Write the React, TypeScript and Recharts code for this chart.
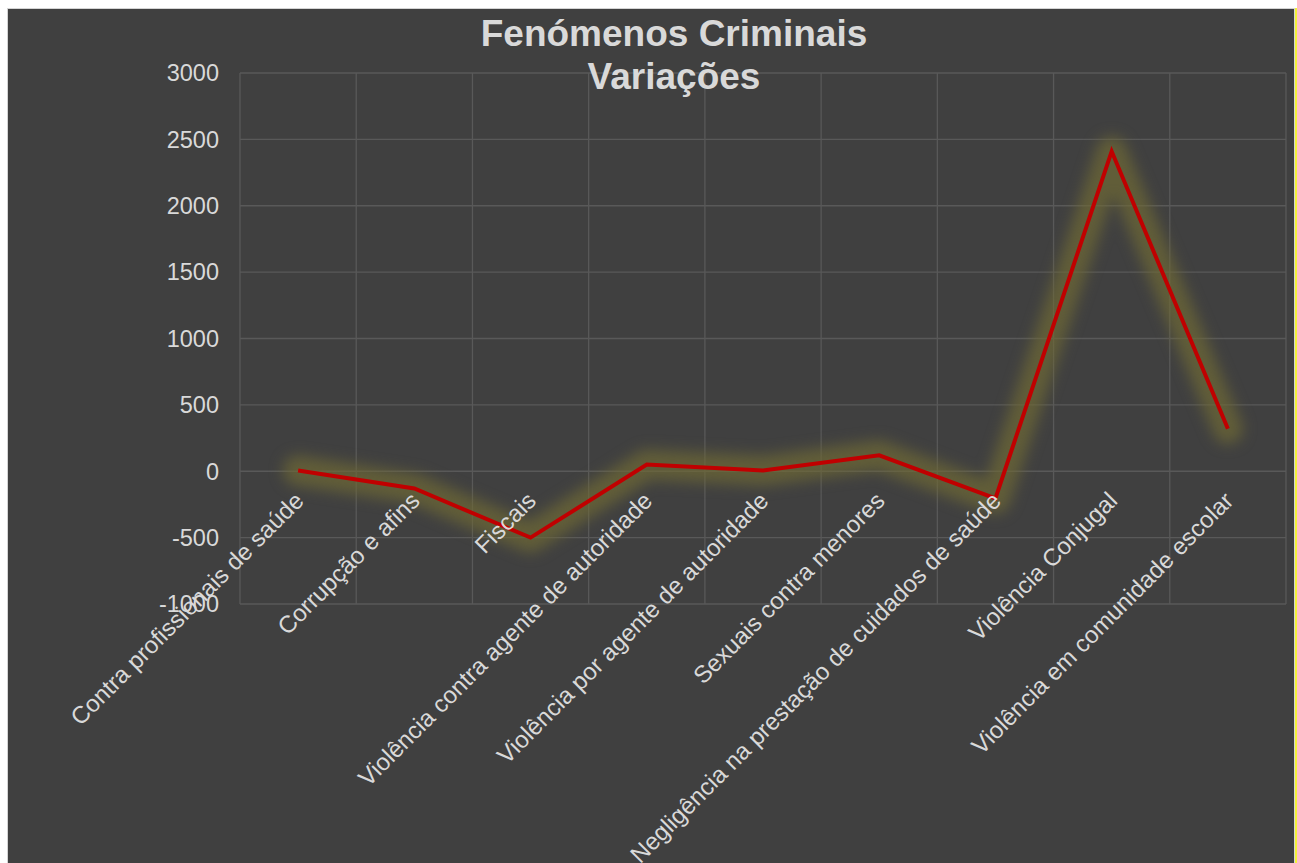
import React from "react";
import { LineChart, Line, XAxis, YAxis, CartesianGrid } from "recharts";

const categories = [
  "Contra profissionais de saúde",
  "Corrupção e afins",
  "Fiscais",
  "Violência contra agente de autoridade",
  "Violência por agente de autoridade",
  "Sexuais contra menores",
  "Negligência na prestação de cuidados de saúde",
  "Violência Conjugal",
  "Violência em comunidade escolar",
];
const variacoes = [5, -130, -500, 50, 5, 120, -205, 2410, 320];
const yTicks = [-1000, -500, 0, 500, 1000, 1500, 2000, 2500, 3000];

const data = categories.map((name, i) => ({ name, value: variacoes[i] }));

const W = 1286;
const H = 854;
const M_TOP = 64;
const M_LEFT = 172;
const M_RIGHT = 8;
const M_BOTTOM = 229;
const Y_AXIS_W = 60;
const X_AXIS_H = 30;
const PLOT_H = H - M_TOP - M_BOTTOM - X_AXIS_H;
const Y_MIN = -1000;
const Y_MAX = 3000;
// category labels hang off the zero line, as in the source chart
const ZERO_Y = M_TOP + (PLOT_H * Y_MAX) / (Y_MAX - Y_MIN);

const TEXT = "#d9d9d9";
const FONT = "'Liberation Sans', Arial, sans-serif";

function CategoryTick({ x, payload }: any) {
  return (
    <g transform={`translate(${x + 7},${ZERO_Y + 31}) rotate(-45)`}>
      <text textAnchor="end" fill={TEXT} fontSize={24} fontFamily={FONT}>
        {payload.value}
      </text>
    </g>
  );
}

// vertical gridlines sit on the category boundaries, not the centres
function bandEdges({ offset }: any) {
  const n = categories.length;
  const out: number[] = [];
  for (let k = 0; k <= n; k++) out.push(offset.left + (offset.width * k) / n);
  return out;
}

export default function App() {
  return (
    <div
      style={{
        position: "absolute",
        left: 7,
        top: 8,
        width: W,
        height: H,
        background: "#404040",
        border: "1px solid #d4d4d4",
        boxShadow: "3px 0 0 #f2f23a",
        fontFamily: FONT,
      }}
    >
      <style>{`html, body { overflow: hidden; } .glow path { filter: blur(7px); }`}</style>
      <div
        style={{
          position: "absolute",
          left: 366,
          top: 3,
          width: 600,
          textAlign: "center",
          color: TEXT,
          fontWeight: "bold",
          fontSize: 37,
          lineHeight: "43px",
          zIndex: 2,
        }}
      >
        Fenómenos Criminais
        <br />
        Variações
      </div>
      <LineChart
        width={W}
        height={H}
        data={data}
        margin={{ top: M_TOP, left: M_LEFT, right: M_RIGHT, bottom: M_BOTTOM }}
      >
        <CartesianGrid
          stroke="#595959"
          strokeWidth={1.3}
          verticalCoordinatesGenerator={bandEdges}
        />
        <XAxis
          dataKey="name"
          scale="band"
          height={X_AXIS_H}
          axisLine={false}
          tickLine={false}
          interval={0}
          tick={<CategoryTick />}
        />
        <YAxis
          width={Y_AXIS_W}
          domain={[Y_MIN, Y_MAX]}
          ticks={yTicks}
          axisLine={false}
          tickLine={false}
          tickSize={0}
          tickMargin={21}
          tick={{ fill: TEXT, fontSize: 23.5, fontFamily: FONT }}
        />
        <Line
          className="glow"
          dataKey="value"
          stroke="#6f6a34"
          strokeOpacity={0.7}
          strokeWidth={30}
          strokeLinejoin="round"
          strokeLinecap="round"
          dot={false}
          activeDot={false}
          isAnimationActive={false}
        />
        <Line
          dataKey="value"
          stroke="#c00000"
          strokeWidth={4}
          strokeLinejoin="miter"
          dot={false}
          activeDot={false}
          isAnimationActive={false}
        />
      </LineChart>
    </div>
  );
}
